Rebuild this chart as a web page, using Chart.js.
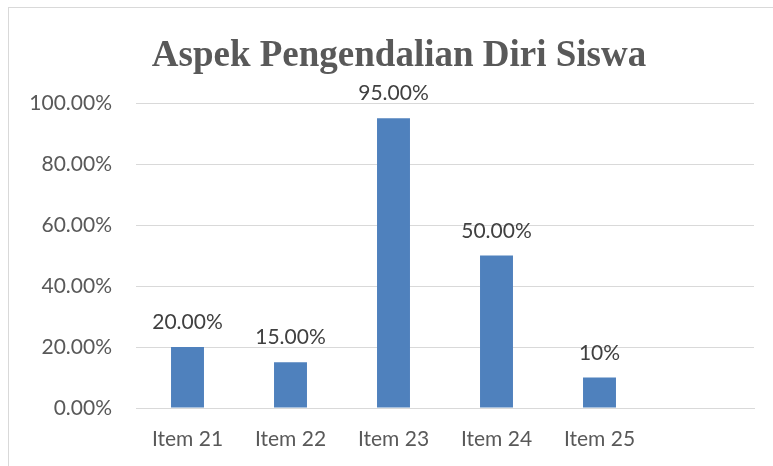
<!DOCTYPE html>
<html>
<head>
<meta charset="utf-8">
<script src="https://cdn.jsdelivr.net/npm/chart.js@4.4.0/dist/chart.umd.min.js"></script>
<style>
  html, body { margin: 0; padding: 0; background: #fff; }
  #wrap { position: relative; width: 773px; height: 466px; overflow: hidden; }
  #frame { position: absolute; left: 8px; top: 7px; width: 800px; height: 500px; border: 1px solid #d9d9d9; }
  canvas { position: absolute; left: 0; top: 0; }
</style>
</head>
<body>
<div id="wrap">
  <div id="frame"></div>
  <canvas id="chart" width="773" height="466"></canvas>
</div>
<script>
// chart data
const chartTitle = 'Aspek Pengendalian Diri Siswa';
const categories = ['Item 21', 'Item 22', 'Item 23', 'Item 24', 'Item 25', ''];
const percentValues = [20, 15, 95, 50, 10, null];
const valueLabels = ['20.00%', '15.00%', '95.00%', '50.00%', '10%', ''];
const yTicks = [0, 20, 40, 60, 80, 100];

// title drawn by hand so it can sit over the whole frame, not just the plot
const titlePlugin = {
    id: 'titlePlugin',
    afterDraw(chart) {
        const c = chart.ctx;
        c.save();
        c.font = 'bold 37px "Liberation Serif"';
        c.fillStyle = '#595959';
        c.textAlign = 'center';
        c.textBaseline = 'alphabetic';
        c.fillText(chartTitle, 399, 66);
        c.restore();
    }
};

// draws the text above each bar
const barLabels = {
    id: 'barLabels',
    afterDatasetsDraw(chart) {
        const c = chart.ctx;
        const meta = chart.getDatasetMeta(0);
        c.save();
        c.font = '21px Lato';
        c.fillStyle = '#404040';
        c.textAlign = 'center';
        c.textBaseline = 'alphabetic';
        meta.data.forEach((bar, i) => {
            if (percentValues[i] == null) return;
            c.fillText(valueLabels[i], bar.x, bar.y - 18);
        });
        c.restore();
    }
};

const ctx = document.getElementById('chart').getContext('2d');
const chart = new Chart(ctx, {
    type: 'bar',
    data: {
        labels: categories,
        datasets: [{
            data: percentValues,
            backgroundColor: '#4f81bd',
            categoryPercentage: 1,
            barPercentage: 0.32
        }]
    },
    options: {
        responsive: false,
        animation: false,
        layout: { padding: { left: 0, right: 19, top: 103, bottom: 0 } },
        plugins: {
            legend: { display: false },
            tooltip: { enabled: false },
            title: { display: false }
        },
        scales: {
            x: {
                afterFit(scale) { scale.height = 58; },
                grid: { display: false },
                border: { color: '#d9d9d9' },
                ticks: { color: '#595959', font: { family: 'Lato', size: 21 }, padding: 11, maxRotation: 0, autoSkip: false }
            },
            y: {
                min: 0,
                max: 100,
                afterFit(scale) { scale.width = 136; },
                afterBuildTicks(scale) { scale.ticks = yTicks.map(v => ({ value: v })); },
                grid: { color: '#d9d9d9', drawTicks: false },
                border: { display: false },
                ticks: {
                    color: '#595959',
                    font: { family: 'Lato', size: 21 },
                    padding: 24,
                    callback: v => v.toFixed(2) + '%'
                }
            }
        }
    },
    plugins: [barLabels, titlePlugin]
});
</script>
</body>
</html>
